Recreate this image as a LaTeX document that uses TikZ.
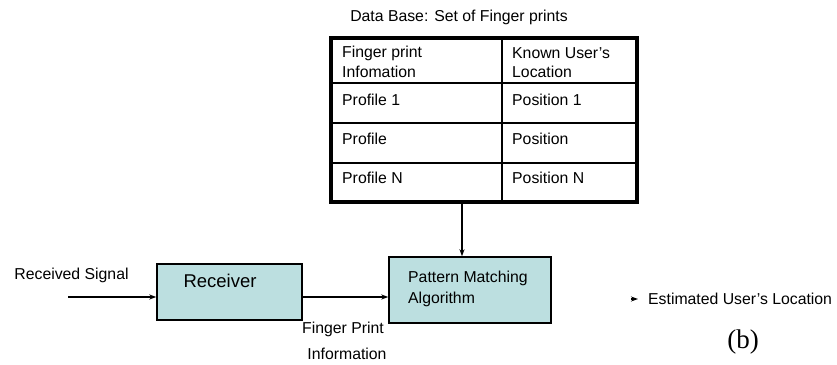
\documentclass[tikz,border=0pt]{standalone}
\usepackage{fontspec}
\setmainfont{Liberation Sans}
\newfontfamily\serifb{Liberation Serif}
\usetikzlibrary{arrows.meta}
\definecolor{boxfill}{HTML}{BCDFE0}
\begin{document}
\begin{tikzpicture}[x=1pt,y=-1pt,
  lbl/.style={font=\fontsize{15.8}{18}\selectfont, inner sep=0pt},
  cell/.style={lbl, anchor=west},
  blk/.style={draw, line width=1.4pt, fill=boxfill, inner sep=0pt},
  arr/.style={-{Stealth[length=7pt,width=5pt]}, line width=1.3pt},
  grid/.style={line width=1.4pt}]
\useasboundingbox (0,0) rectangle (837,364);
% title
\node[lbl] (title) at (459,17) {Data Base: Set of Finger prints};
% table
\node[draw=none, minimum width=306pt, minimum height=164pt, inner sep=0pt] (db) at (484,120) {};
\draw[grid] (db.west |- 0,83) -- (db.east |- 0,83);
\draw[grid] (db.west |- 0,123) -- (db.east |- 0,123);
\draw[grid] (db.west |- 0,163) -- (db.east |- 0,163);
\draw[grid] (db.north -| 502,0) -- (db.south -| 502,0);
\draw[line width=3.5pt] (db.north west) rectangle (db.south east);
\node[cell] (c11) at (342,53) {Finger print};
\node[cell] (c11b) at (342,72) {Infomation};
\node[cell] (c12) at (512,53) {Known User's};
\node[cell] (c12b) at (512,72) {Location};
\node[cell] (c21) at (342,100) {Profile 1};
\node[cell] (c22) at (512,100) {Position 1};
\node[cell] (c31) at (342,139) {Profile};
\node[cell] (c32) at (512,139) {Position};
\node[cell] (c41) at (342,178) {Profile N};
\node[cell] (c42) at (512,178) {Position N};
% blocks
\node[blk, minimum width=145pt, minimum height=56pt] (rec) at (229.5,292) {};
\node[font=\fontsize{18.5}{22}\selectfont, inner sep=0pt] (rect) at (220,281) {Receiver};
\node[blk, minimum width=162pt, minimum height=66pt] (pat) at (470,290) {};
\node[cell] (pt1) at (408,278) {Pattern Matching};
\node[cell] (pt2) at (408,299) {Algorithm};
% labels
\node[lbl] (rs) at (71.5,275) {Received Signal};
\node[lbl] (fp1) at (343,329) {Finger Print};
\node[lbl] (fp2) at (347,354) {Information};
\node[cell] (est) at (648,299) {Estimated User's Location};
\node[font=\serifb\fontsize{27}{30}\selectfont, inner sep=0pt] (b) at (743,342) {(b)};
% connectors
\coordinate (sigin) at (68,297);
\coordinate (dbx) at (462,0);
\coordinate (outA) at (631,299);
\coordinate (outB) at (638,299);
\draw[arr] (sigin) -- (sigin -| rec.west);
\draw[arr] (rec.east |- sigin) -- (pat.west |- sigin);
\draw[arr] (db.south -| dbx) -- (pat.north -| dbx);
\draw[arr] (outA) -- (outB);
\end{tikzpicture}
\end{document}
